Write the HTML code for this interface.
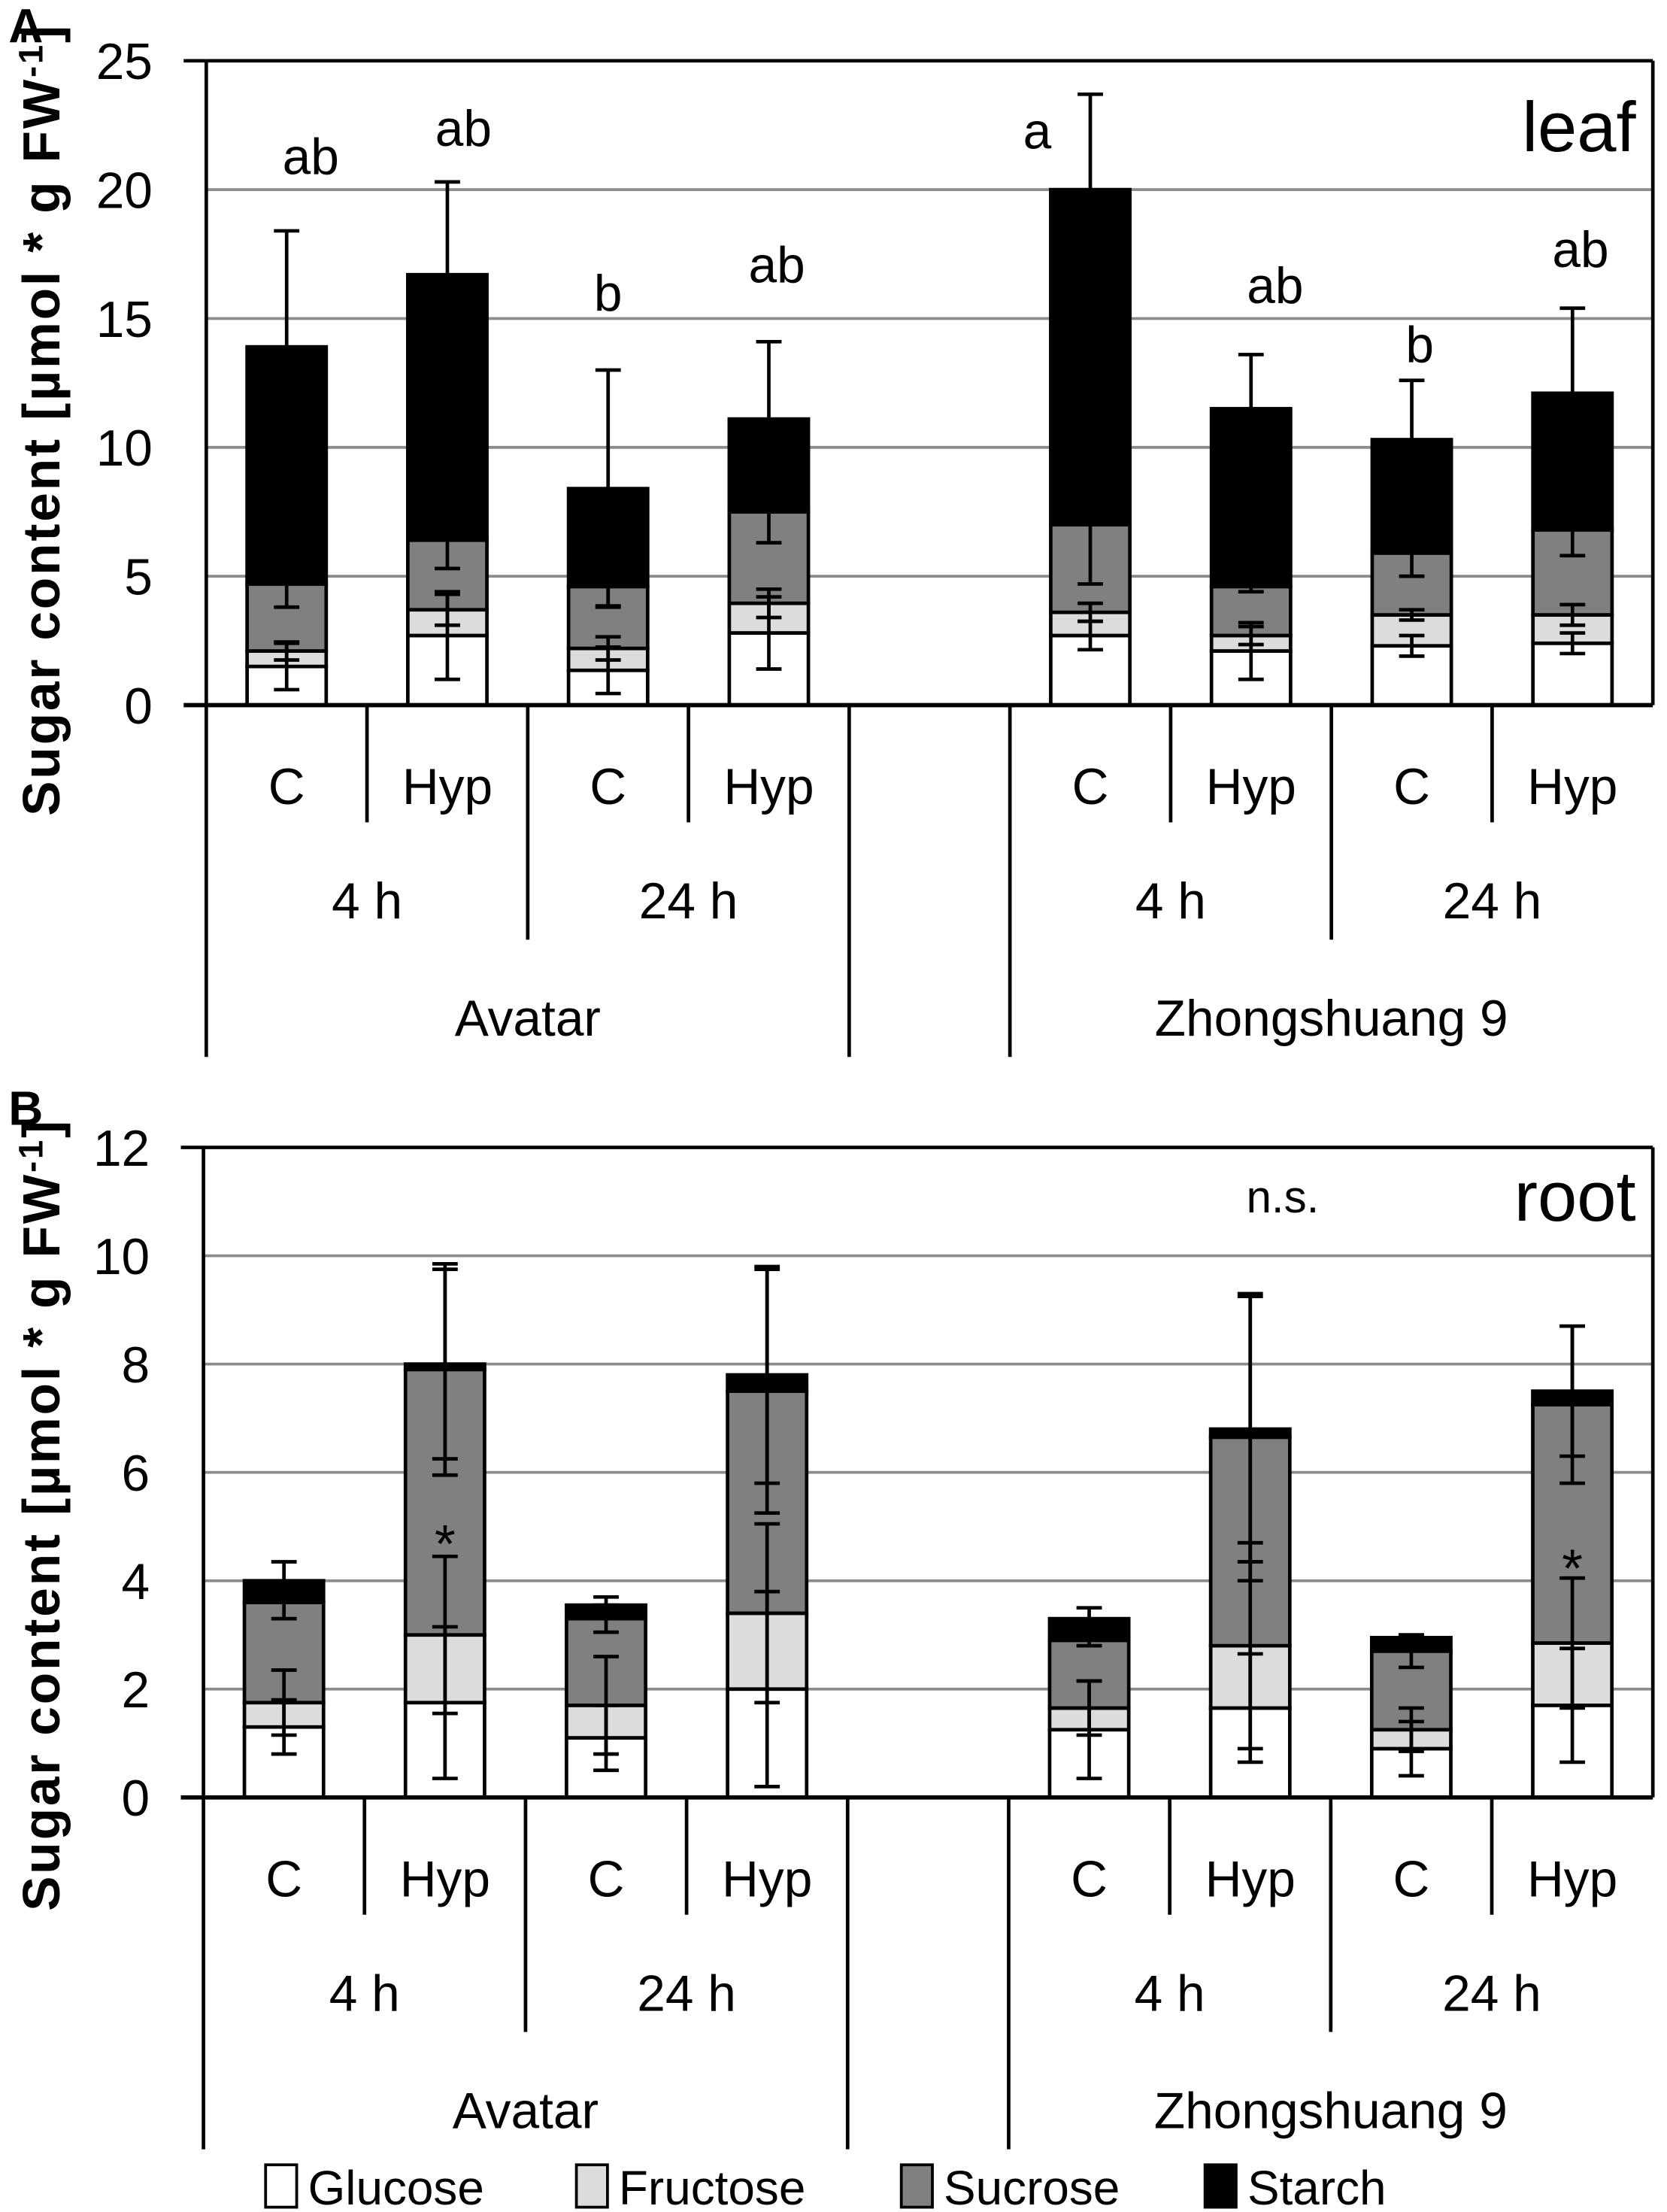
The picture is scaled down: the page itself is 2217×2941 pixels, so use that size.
<!DOCTYPE html>
<html><head><meta charset="utf-8"><style>
html,body{margin:0;padding:0;background:#fff}
svg{display:block}
text{font-family:"Liberation Sans",sans-serif}
</style></head><body>
<svg id="chart" xmlns="http://www.w3.org/2000/svg" width="2217" height="2941" viewBox="0 0 1180 1565.4">
<text x="6" y="30" font-size="34" font-weight="bold">A</text>
<text x="6" y="796" font-size="34" font-weight="bold">B</text>
<text x="1158" y="107" font-size="50" text-anchor="end">leaf</text>
<text x="1158" y="864" font-size="50" text-anchor="end">root</text>
<text x="908" y="858" font-size="32" text-anchor="middle">n.s.</text>
<g id="legend"></g>
</svg>
<script>
const NS="http://www.w3.org/2000/svg";
const svg=document.getElementById('chart');
const treatments=["C","Hyp","C","Hyp","C","Hyp","C","Hyp"];
const times=["4 h","24 h","4 h","24 h"];
const cultivars=["Avatar","Zhongshuang 9"];
const seriesNames=["Glucose","Fructose","Sucrose","Starch"];
// leaf
const leafGlucose=[1.5,2.7,1.35,2.8,2.7,2.1,2.3,2.4];
const leafFructose=[0.6,1.0,0.85,1.15,0.9,0.6,1.2,1.1];
const leafSucrose=[2.6,2.7,2.4,3.55,3.4,1.9,2.4,3.3];
const leafStarch=[9.2,10.3,3.8,3.6,13.0,6.9,4.4,5.3];
const leafGlucoseErr=[0.9,1.7,0.9,1.4,0.55,1.1,0.4,0.4];
const leafFructoseErr=[0.35,0.6,0.45,0.55,0.35,0.35,0.2,0.4];
const leafSucroseErr=[0.9,1.1,0.75,1.2,2.3,0.2,0.9,1.0];
const leafStarchErr=[4.5,3.6,4.6,3.0,3.7,2.1,2.3,3.3];
const leafLetters=["ab","ab","b","ab","a","ab","b","ab"];
const leafLetterLevel=[20.6,21.7,15.3,16.4,21.6,15.6,13.3,17.0];
const leafLetterShift=[0.15,0.1,0,0.05,-0.33,0.15,0.05,0.05];
const leafTicks=[0,5,10,15,20,25];
// root
const rootGlucose=[1.3,1.75,1.1,2.0,1.25,1.65,0.9,1.7];
const rootFructose=[0.45,1.25,0.6,1.4,0.4,1.15,0.35,1.15];
const rootSucrose=[1.85,4.9,1.6,4.1,1.25,3.85,1.45,4.4];
const rootStarch=[0.4,0.1,0.25,0.3,0.4,0.15,0.25,0.25];
const rootGlucoseErr=[0.5,1.4,0.6,1.8,0.9,1.0,0.5,1.05];
const rootFructoseErr=[0.6,1.45,0.9,1.65,0.5,1.9,0.4,1.2];
const rootSucroseErr=[0.3,1.95,0.25,2.25,0.1,2.65,0.3,1.45];
const rootStarchErr=[0.35,1.75,0.15,2.0,0.2,2.45,0.05,1.2];
const rootStars=["","*","","","","","","*"];
const rootStarLevel=[0,4.55,0,0,0,0,0,4.1];
const rootTicks=[0,2,4,6,8,10,12];

const fills=["#ffffff","#dcdcdc","#808080","#000000"];
function el(tag,attrs,parent){const e=document.createElementNS(NS,tag);for(const k in attrs)e.setAttribute(k,attrs[k]);(parent||svg).appendChild(e);return e;}

function panel(cfg){
  const g=el('g',{});
  
  
  const L=cfg.left,R=1170,T=cfg.top,B=cfg.bottom,max=cfg.ticks[cfg.ticks.length-1];
  const y=v=>B-(v/max)*(B-T);
  const slot=(R-L)/9;
  const idx=[0,1,2,3,5,6,7,8];
  const xc=i=>L+slot*(idx[i]+0.5);
  cfg.ticks.forEach(t=>{
    if(t>0&&t<max){const gl=el('line',{x1:L,x2:R,y1:y(t),y2:y(t),stroke:'#8c8c8c','stroke-width':2},g);}
    const tl=el('text',{x:L-38,y:y(t)+13,'font-size':36,'text-anchor':'end'},g);tl.textContent=t;
    
  });
  el('line',{x1:L,x2:R,y1:T,y2:T,stroke:'#000','stroke-width':2.5},g);
  el('line',{x1:R,x2:R,y1:T,y2:B,stroke:'#000','stroke-width':2.5},g);
  el('line',{x1:L,x2:L,y1:T,y2:B+249,stroke:'#000','stroke-width':2.5},g);
  el('line',{x1:L-16,x2:L,y1:T,y2:T,stroke:'#000','stroke-width':2.5},g);
  const bw=56;
  const series=cfg.series, errs=cfg.errs;
  for(let i=0;i<8;i++){
    let base=0;
    for(let s=0;s<4;s++){
      const v=series[s][i];
      const r=el('rect',{x:xc(i)-bw/2,y:y(base+v),width:bw,height:y(base)-y(base+v),fill:fills[s],stroke:'#000','stroke-width':2.5},g);
      
      
      base+=v;
    }
  }
  for(let i=0;i<8;i++){
    let base=0;
    for(let s=0;s<4;s++){
      base+=series[s][i];const e=errs[s][i];
      const eg=el('g',{stroke:'#000','stroke-width':2.5},g);
      
      el('line',{x1:xc(i),x2:xc(i),y1:y(base-e),y2:y(base+e)},eg);
      el('line',{x1:xc(i)-9,x2:xc(i)+9,y1:y(base-e),y2:y(base-e)},eg);
      el('line',{x1:xc(i)-9,x2:xc(i)+9,y1:y(base+e),y2:y(base+e)},eg);
    }
    if(cfg.letters&&cfg.letters[i]){
      const lt=el('text',{x:xc(i)+cfg.letterShift[i]*slot,y:y(cfg.letterLevel[i]),'font-size':36,'text-anchor':'middle'},g);lt.textContent=cfg.letters[i];
      
    }
    if(cfg.stars&&cfg.stars[i]){
      const st=el('text',{x:xc(i),y:y(cfg.starLevel[i])+8,'font-size':38,'text-anchor':'middle'},g);st.textContent=cfg.stars[i];
      
    }
  }
  el('line',{x1:L-16,x2:R,y1:B,y2:B,stroke:'#000','stroke-width':3},g);
  [1,3,6,8].forEach(k=>el('line',{x1:L+slot*k,x2:L+slot*k,y1:B,y2:B+83,stroke:'#000','stroke-width':2.5},g));
  [2,7].forEach(k=>el('line',{x1:L+slot*k,x2:L+slot*k,y1:B,y2:B+166,stroke:'#000','stroke-width':2.5},g));
  [4,5].forEach(k=>el('line',{x1:L+slot*k,x2:L+slot*k,y1:B,y2:B+249,stroke:'#000','stroke-width':2.5},g));
  for(let i=0;i<8;i++){const t=el('text',{x:xc(i),y:B+70,'font-size':36,'text-anchor':'middle'},g);t.textContent=treatments[i];}
  const tc=[L+slot,L+slot*3,L+slot*6,L+slot*8];
  for(let i=0;i<4;i++){const t=el('text',{x:tc[i],y:B+151,'font-size':36,'text-anchor':'middle'},g);t.textContent=times[i];}
  const cc=[L+slot*2,L+slot*7];
  for(let i=0;i<2;i++){const t=el('text',{x:cc[i],y:B+234,'font-size':36,'text-anchor':'middle'},g);t.textContent=cultivars[i];}
  const yt=el('text',{x:0,y:0,'font-size':37,'font-weight':'bold','letter-spacing':1.5,'text-anchor':'middle',transform:`translate(42,${cfg.titleY}) rotate(-90)`},g);
  yt.textContent='Sugar content [µmol * g FW';
  const sup=el('tspan',{dy:-12,'font-size':24},yt);sup.textContent='-1';
  const cl=el('tspan',{dy:12},yt);cl.textContent=']';
  
}
panel({name:'leaf-panel',left:146,top:43,bottom:499,ticks:leafTicks,titleY:297,
  series:[leafGlucose,leafFructose,leafSucrose,leafStarch],errs:[leafGlucoseErr,leafFructoseErr,leafSucroseErr,leafStarchErr],
  letters:leafLetters,letterLevel:leafLetterLevel,letterShift:leafLetterShift});
panel({name:'root-panel',left:144,top:812,bottom:1272,ticks:rootTicks,titleY:1072,
  series:[rootGlucose,rootFructose,rootSucrose,rootStarch],errs:[rootGlucoseErr,rootFructoseErr,rootSucroseErr,rootStarchErr],
  stars:rootStars,starLevel:rootStarLevel});
const lg=document.getElementById('legend');
const lx=[188,408,638,853];
for(let s=0;s<4;s++){
  const r=el('rect',{x:lx[s],y:1532,width:22,height:30,fill:fills[s],stroke:'#000','stroke-width':2},lg);
  
  const t=el('text',{x:lx[s]+30,y:1560,'font-size':34},lg);t.textContent=seriesNames[s];
  
}
</script>
</body></html>
